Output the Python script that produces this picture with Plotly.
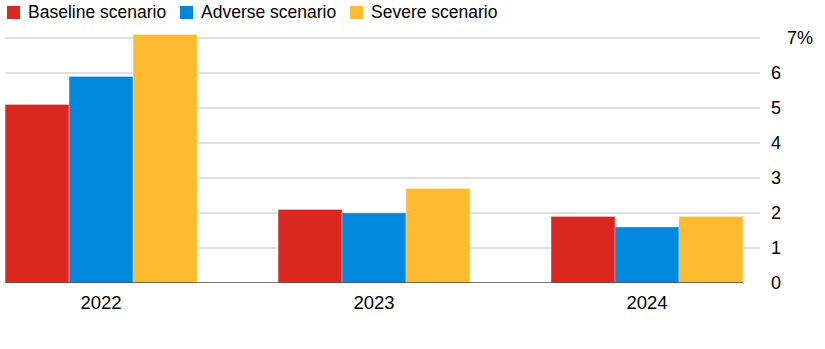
import plotly.graph_objects as go

years = ["2022", "2023", "2024"]
series_names = ["Baseline scenario", "Adverse scenario", "Severe scenario"]
baseline = [5.1, 2.1, 1.9]
adverse = [5.9, 2.0, 1.6]
severe = [7.1, 2.7, 1.9]
colors = ["#DC2720", "#0088DC", "#FDBB30"]
y_ticks = [0, 1, 2, 3, 4, 5, 6, 7]
y_ticktext = ["0", "1", "2", "3", "4", "5", "6", ""]
top_label = "7%"

W, H = 825, 349
L, R, T, B = 5, 65, 24, 66
pw, ph = W - L - R, H - T - B

def px_x(x):
    return (x - L) / pw

def px_y(y):
    return (H - B - y) / ph

FONT = "Liberation Sans, Arial, Helvetica, sans-serif"
xs = list(range(len(years)))

fig = go.Figure()
for name, vals, col in zip(series_names, [baseline, adverse, severe], colors):
    fig.add_trace(go.Bar(x=xs, y=vals, name=name, marker_color=col,
                         marker_line=dict(color="rgba(255,255,255,0.6)", width=0.5),
                         showlegend=False))

# zero line (dark under bars, small gap before right-hand tick stub)
fig.add_shape(type="line", xref="x", yref="y", x0=2.352, x1=2.39, y0=0, y1=0,
              line=dict(color="white", width=2))
fig.add_shape(type="line", xref="x", yref="y", x0=-0.352, x1=2.352, y0=0, y1=0,
              line=dict(color="#4A4A4A", width=1.5))

# custom legend
legend_x = [7, 180, 350]
for name, col, lx in zip(series_names, colors, legend_x):
    fig.add_shape(type="rect", xref="paper", yref="paper",
                  x0=px_x(lx), x1=px_x(lx + 13), y0=px_y(6), y1=px_y(19),
                  fillcolor=col, line=dict(width=0))
    fig.add_annotation(text=name, xref="paper", yref="paper",
                       x=px_x(lx + 19), y=px_y(12.5), xanchor="left", yanchor="middle",
                       showarrow=False, font=dict(size=17.5, color="#000000", family=FONT))

fig.add_annotation(text=top_label, xref="paper", yref="y", x=px_x(785), y=7,
                   xanchor="left", yanchor="middle", showarrow=False,
                   font=dict(size=18, color="#000000", family=FONT))

fig.update_layout(
    width=W, height=H,
    margin=dict(l=L, r=R, t=T, b=B),
    paper_bgcolor="white", plot_bgcolor="white",
    barmode="group", bargap=0.297, bargroupgap=0,
    font=dict(family=FONT, size=18, color="#000000"),
    xaxis=dict(tickvals=xs, ticktext=years, range=[-0.352, 2.414],
               showgrid=False, zeroline=False, showline=False, ticks="",
               tickfont=dict(size=18.5), ticklabelstandoff=6),
    yaxis=dict(side="right", range=[0, 7.4], tickvals=y_ticks, ticktext=y_ticktext,
               showgrid=True, gridcolor="#E0E0E0", gridwidth=1.5, zeroline=False,
               showline=False, ticks="", tickfont=dict(size=18), ticklabelstandoff=10),
)

fig.write_html("out.html")
